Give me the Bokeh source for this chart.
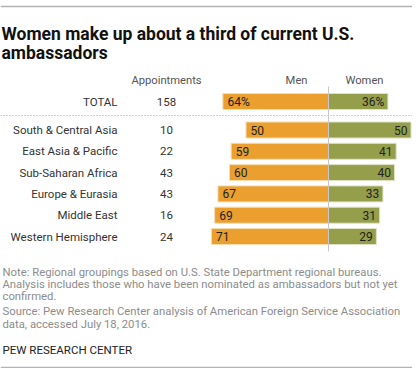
from bokeh.plotting import figure
from bokeh.models import Range1d, ColumnDataSource
from bokeh.core.properties import value
from bokeh.embed import file_html
from bokeh.resources import INLINE

# ---- data ----
regions = ["South & Central Asia", "East Asia & Pacific", "Sub-Saharan Africa",
           "Europe & Eurasia", "Middle East", "Western Hemisphere"]
appointments = [10, 22, 43, 43, 16, 24]
men = [50, 59, 60, 67, 69, 71]
women = [50, 41, 40, 33, 31, 29]
total_label = "TOTAL"
total_appointments = 158
total_men = 64
total_women = 36

title_lines = ["Women make up about a third of current U.S.", "ambassadors"]
note_lines = ["Note: Regional groupings based on U.S. State Department regional bureaus.",
              "Analysis includes those who have been nominated as ambassadors but not yet",
              "confirmed."]
source_lines = ["Source: Pew Research Center analysis of American Foreign Service Association",
                "data, accessed July 18, 2016."]
credit = "PEW RESEARCH CENTER"

# ---- layout ----
W, H = 412, 368
CX = 328.0      # pixel position of the 0 line
PPU = 1.65      # pixels per percentage point
FONT = "Roboto"
ORANGE = "#EA9F2F"
OLIVE = "#959E4A"

def px(x):
    return (x - CX) / PPU

p = figure(width=W, height=H, output_backend="svg", toolbar_location=None,
           x_range=Range1d(px(0), px(W)), y_range=Range1d(H, 0),
           min_border=0, outline_line_color=None)
p.axis.visible = False
p.grid.visible = False
p.background_fill_color = "white"
p.border_fill_color = "white"

row_y = [129.5 + 21.3 * i for i in range(len(regions))]
total_y = 101
bar_h = 16

ys = [total_y] + row_y
men_all = [total_men] + men
women_all = [total_women] + women

src = ColumnDataSource(dict(
    y=ys,
    men_left=[-m for m in men_all],
    zero=[0] * len(ys),
    women=women_all,
    men_lab=[f"{total_men}%"] + [str(m) for m in men],
    women_lab=[f"{total_women}%"] + [str(w) for w in women],
    men_lab_x=[-m + 2.8 for m in men_all],
    women_lab_x=[w - 2.2 for w in women_all],
    cat=[total_label] + regions,
    cat_x=[px(117)] * len(ys),
    app=[str(total_appointments)] + [str(a) for a in appointments],
    app_x=[px(166)] * len(ys),
))

# rules
p.segment(x0=px(0), x1=px(W), y0=6, y1=6, line_color="#b3b3b3", line_width=1.3)
p.segment(x0=px(0), x1=px(W), y0=H - 1, y1=H - 1, line_color="#b3b3b3", line_width=1.3)
p.segment(x0=px(0), x1=px(W), y0=115, y1=115, line_color="#9a9a9a", line_width=1,
          line_dash="1 2")

p.hbar(y="y", left="men_left", right="zero", height=bar_h, source=src,
       fill_color=ORANGE, line_color="#f6ddb0", line_width=1)
p.hbar(y="y", left="zero", right="women", height=bar_h, source=src,
       fill_color=OLIVE, line_color="#dfe2c6", line_width=1)
p.segment(x0=0, x1=0, y0=86, y1=251, line_color="#c8c8c8", line_width=1)

p.text(x="men_lab_x", y="y", text="men_lab", source=src, text_font=value(FONT),
       text_font_size="12px", text_color="#222222", text_align="left",
       text_baseline="middle")
p.text(x="women_lab_x", y="y", text="women_lab", source=src, text_font=value(FONT),
       text_font_size="12px", text_color="#222222", text_align="right",
       text_baseline="middle")
p.text(x="cat_x", y="y", text="cat", source=src, text_font=value(FONT),
       text_font_size="11.5px", text_color="#333333", text_align="right",
       text_baseline="middle")
p.text(x="app_x", y="y", text="app", source=src, text_font=value(FONT),
       text_font_size="11.5px", text_color="#333333", text_align="center",
       text_baseline="middle")

# headers
p.text(x=[px(166)], y=[80], text=["Appointments"], text_font=value(FONT),
       text_font_size="11.2px", text_color="#555555", text_align="center", text_baseline="middle")
p.text(x=[px(307)], y=[80], text=["Men"], text_font=value(FONT),
       text_font_size="11.2px", text_color="#555555", text_align="right", text_baseline="middle")
p.text(x=[px(364)], y=[80], text=["Women"], text_font=value(FONT),
       text_font_size="11.2px", text_color="#555555", text_align="center", text_baseline="middle")

# title
p.text(x=[px(1), px(1)], y=[33, 52], text=title_lines, text_font=value(FONT),
       text_font_size="17.5px", text_font_style="bold", text_color="#111111",
       text_align="left", text_baseline="alphabetic")

# notes
note_y = [272, 284, 296]
src_y = [311, 324]
p.text(x=[px(2)] * 3, y=note_y, text=note_lines, text_font=value(FONT),
       text_font_size="11.3px", text_color="#8c8c8c", text_align="left", text_baseline="middle")
p.text(x=[px(2)] * 2, y=src_y, text=source_lines, text_font=value(FONT),
       text_font_size="11.3px", text_color="#8c8c8c", text_align="left", text_baseline="middle")
p.text(x=[px(2)], y=[349], text=[credit], text_font=value(FONT),
       text_font_size="11.5px", text_color="#222222", text_align="left", text_baseline="middle")

open("out.html", "w").write(file_html(p, INLINE))
